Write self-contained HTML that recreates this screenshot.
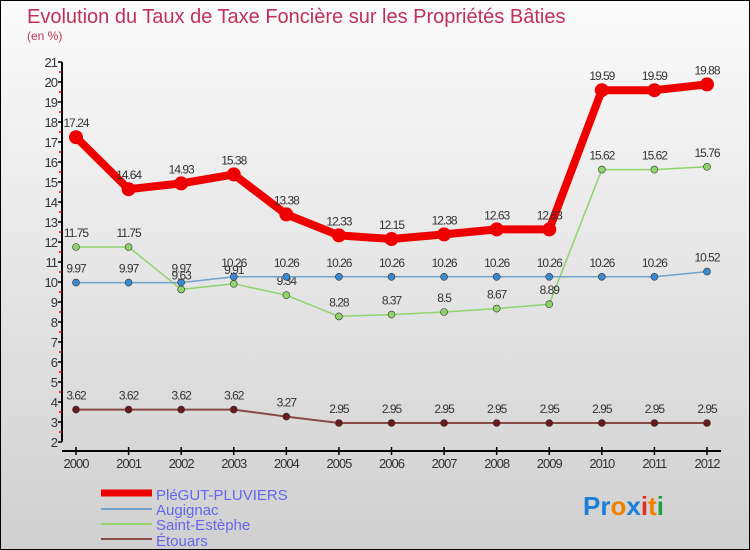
<!DOCTYPE html>
<html><head><meta charset="utf-8"><style>
html,body{margin:0;padding:0}
body{width:750px;height:550px;overflow:hidden;font-family:"Liberation Sans",sans-serif}
#c{position:relative;width:748px;height:548px;border:1px solid #000;background:linear-gradient(#fbfbfb,#d0d0d0)}
</style></head><body>
<div id="c">
<svg id="s" width="748" height="548" style="position:absolute;left:0;top:0">
<text x="26" y="22" font-size="20" fill="#c0305a">Evolution du Taux de Taxe Foncière sur les Propriétés Bâties</text>
<text x="26" y="39" font-size="12" fill="#c0305a">(en %)</text>
<g id="axes"></g><g id="series"></g>
<g>
<line x1="100" y1="492" x2="151" y2="492" stroke="#e00" stroke-width="7"/>
<text x="155" y="499" font-size="15" fill="#6666ee">PléGUT-PLUVIERS</text>
<line x1="100" y1="508" x2="151" y2="508" stroke="#6fa3cc" stroke-width="2"/>
<text x="155" y="514" font-size="15" fill="#6666ee">Augignac</text>
<line x1="100" y1="523" x2="151" y2="523" stroke="#8fd36b" stroke-width="2"/>
<text x="155" y="529" font-size="15" fill="#6666ee">Saint-Estèphe</text>
<line x1="100" y1="538" x2="151" y2="538" stroke="#8a4a4a" stroke-width="2"/>
<text x="155" y="545" font-size="15" fill="#6666ee">Étouars</text>
</g>
<g font-size="26" font-weight="bold">
<text x="582" y="514"><tspan fill="#1a7fd6">Pr</tspan><tspan fill="#f08000">o</tspan><tspan fill="#1a7fd6">x</tspan><tspan fill="#e03020">i</tspan><tspan fill="#f08000">t</tspan><tspan fill="#20a040">i</tspan></text>
</g>
</svg>
</div>
<script>
const years=[2000,2001,2002,2003,2004,2005,2006,2007,2008,2009,2010,2011,2012];
const plegut=[17.24,14.64,14.93,15.38,13.38,12.33,12.15,12.38,12.63,12.63,19.59,19.59,19.88];
const augignac=[9.97,9.97,9.97,10.26,10.26,10.26,10.26,10.26,10.26,10.26,10.26,10.26,10.52];
const saintEstephe=[11.75,11.75,9.63,9.91,9.34,8.28,8.37,8.5,8.67,8.89,15.62,15.62,15.76];
const etouars=[3.62,3.62,3.62,3.62,3.27,2.95,2.95,2.95,2.95,2.95,2.95,2.95,2.95];
const yTicks=[2,3,4,5,6,7,8,9,10,11,12,13,14,15,16,17,18,19,20,21];
const NS='http://www.w3.org/2000/svg';
const X=i=>75+i*(706-75)/(years.length-1);
const Y=v=>441-(v-2)*20;
function mk(t,a,p){const e=document.createElementNS(NS,t);for(const k in a)e.setAttribute(k,a[k]);p.appendChild(e);return e;}
const ax=document.getElementById('axes');
const yl=mk('line',{x1:61,y1:Y(21),x2:61,y2:Y(2),stroke:'#000','stroke-width':2},ax);


yTicks.forEach(v=>{
 mk('line',{x1:57,y1:Y(v),x2:61,y2:Y(v),stroke:'#000','stroke-width':1.5},ax);
 if(v<21)mk('line',{x1:58,y1:Y(v+0.5),x2:61,y2:Y(v+0.5),stroke:'#e00','stroke-width':1.5},ax);
 const t=mk('text',{x:56,y:Y(v)+5,'font-size':13,fill:'#333','text-anchor':'end','letter-spacing':'-1'},ax);
 t.textContent=v;
 
 
});
const xl=mk('line',{x1:61,y1:450,x2:720,y2:450,stroke:'#000','stroke-width':2},ax);


years.forEach((y,i)=>{
 mk('line',{x1:X(i),y1:446,x2:X(i),y2:454,stroke:'#000','stroke-width':1.5},ax);
 const t=mk('text',{x:X(i),y:467,'font-size':13,fill:'#333','text-anchor':'middle','letter-spacing':'-1'},ax);
 t.textContent=y;
 
 
});
const sg=document.getElementById('series');
function series(d,name,col,w,r,dot){
 const g=mk('g',{},sg);
 
 
 const pl=mk('polyline',{points:d.map((v,i)=>X(i)+','+Y(v)).join(' '),fill:'none',stroke:col,'stroke-width':w,'stroke-linejoin':'round'},g);
 
 
 d.forEach((v,i)=>{
  const c=mk('circle',{cx:X(i),cy:Y(v),r:r,fill:dot,stroke:'#333','stroke-width':r>5?0:0.6},g);
  
  
  const t=mk('text',{x:X(i),y:Y(v)-10,'font-size':12,fill:'#333','text-anchor':'middle','letter-spacing':'-1'},g);
  t.textContent=v;
  
  
 });
}
series(etouars,'etouars','#8a4a4a',2,3.5,'#6a1a1a');
series(saintEstephe,'saint-estephe','#8fd36b',1.5,3.5,'#8fd36b');
series(augignac,'augignac','#6fa3cc',1.5,3.5,'#3a8ad0');
series(plegut,'plegut','#e00',8,7,'#e00');
</script>
</body></html>
